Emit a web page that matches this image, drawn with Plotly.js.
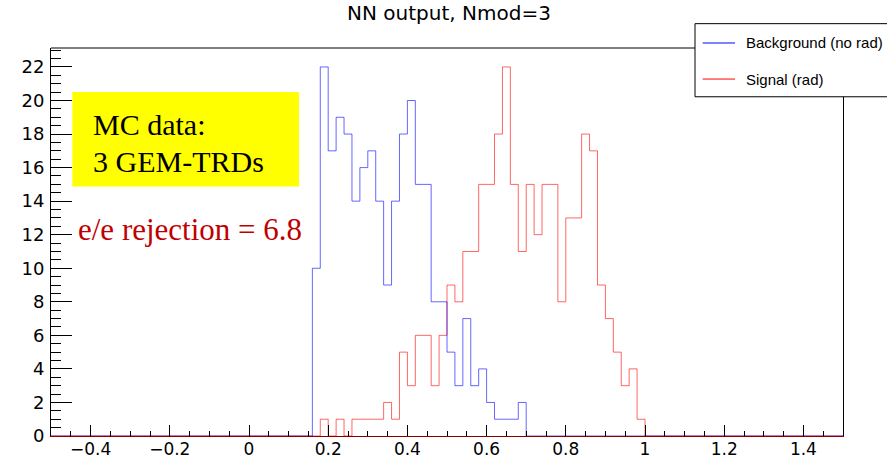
<!DOCTYPE html>
<html>
<head>
<meta charset="utf-8">
<script src="https://cdn.plot.ly/plotly-3.0.1.min.js"></script>
<style>html,body{margin:0;padding:0;background:#fff;}#chart{width:887px;height:460px;}</style>
</head>
<body>
<div id="chart"></div>
<script>
// Histogram bins (lower edges) and counts
const bkgBins   = [0.16,0.18,0.20,0.22,0.24,0.26,0.28,0.30,0.32,0.34,0.36,0.38,0.40,0.42,0.44,0.46,0.48,0.50,0.52,0.54,0.56,0.58,0.60,0.62,0.64,0.66,0.68];
const bkgCounts = [10,22,17,19,18,14,16,17,14,9,14,18,20,15,15,8,8,5,3,7,3,4,2,1,1,1,2];

const sigBins   = [0.18,0.20,0.22,0.24,0.26,0.28,0.30,0.32,0.34,0.36,0.38,0.40,0.42,0.44,0.46,0.48,0.50,0.52,0.54,0.56,0.58,0.60,0.62,0.64,0.66,0.68,0.70,0.72,0.74,0.76,0.78,0.80,0.82,0.84,0.86,0.88,0.90,0.92,0.94,0.96,0.98];
const sigCounts = [1,0,1,0,1,1,1,1,2,1,5,3,6,6,3,6,9,8,11,11,15,15,18,22,15,11,15,12,15,15,8,13,13,18,17,9,7,5,3,4,1];

const binWidth = 0.02;
const xRange = [-0.5, 1.5];
const yRange = [0, 23.13];
const seriesNames = ["Background (no rad)", "Signal (rad)"];

function stepTrace(bins, counts, color) {
  const x = [xRange[0]].concat(bins, [bins[bins.length-1] + binWidth, xRange[1]]);
  const y = [0].concat(counts, [0, 0]);
  return {
    type: 'scatter', mode: 'lines', x: x, y: y,
    line: {shape: 'hv', color: color, width: 1},
    showlegend: false, hoverinfo: 'skip', cliponaxis: false
  };
}

const traces = [
  stepTrace(sigBins, sigCounts, 'rgba(255,0,0,0.6)'),
  stepTrace(bkgBins, bkgCounts, 'rgba(0,0,255,0.6)')
];

const L = 51, R = 843, T = 48.3, B = 435.7;
const px = v => (v - L) / (R - L);
const py = v => (B - v) / (B - T);

const layout = {
  width: 887, height: 460,
  margin: {l: L, r: 887 - R, t: T, b: 460 - B, pad: 0},
  paper_bgcolor: '#fff', plot_bgcolor: '#fff',
  showlegend: false,
  title: {
    text: 'NN output, Nmod=3',
    font: {family: 'DejaVu Sans', size: 20, color: '#000'},
    x: 449/887, xanchor: 'center', y: 1 - 13/460, yanchor: 'middle', yref: 'container'
  },
  xaxis: {
    range: xRange, showgrid: false, zeroline: false,
    showline: true, linecolor: '#8a0000', linewidth: 1, mirror: false,
    ticks: 'inside', ticklen: 11, tickwidth: 1, tickcolor: '#000',
    dtick: 0.2, tick0: 0,
    minor: {dtick: 0.05, ticks: 'inside', ticklen: 5, tickwidth: 1, tickcolor: '#000'},
    tickfont: {family: 'DejaVu Sans', size: 17, color: '#000'},
    ticklabelstandoff: -2
  },
  yaxis: {
    range: yRange, showgrid: false, zeroline: false,
    showline: true, linecolor: '#000', linewidth: 1, mirror: true,
    ticks: 'inside', ticklen: 21, tickwidth: 1, tickcolor: '#000',
    dtick: 2, tick0: 0,
    minor: {dtick: 0.5, ticks: 'inside', ticklen: 10, tickwidth: 1, tickcolor: '#000'},
    tickfont: {family: 'DejaVu Sans', size: 18, color: '#000'},
    ticklabelstandoff: 2
  },
  shapes: [
    // top frame line
    {type: 'line', xref: 'paper', yref: 'paper', x0: 0, x1: 1, y0: 1, y1: 1,
     line: {color: '#000', width: 1}, layer: 'above'},
    // yellow text box
    {type: 'rect', xref: 'paper', yref: 'paper', x0: px(72.3), x1: px(299), y0: py(186.7), y1: py(92.3),
     fillcolor: '#ffff00', line: {width: 0}, layer: 'above'},
    // legend box
    {type: 'rect', xref: 'paper', yref: 'paper', x0: px(695), x1: px(900), y0: py(97), y1: py(24),
     fillcolor: '#fff', line: {color: '#000', width: 1}, layer: 'above'},
    {type: 'line', xref: 'paper', yref: 'paper', x0: px(702.7), x1: px(735), y0: py(43.3), y1: py(43.3),
     line: {color: '#0000ff', width: 1}, layer: 'above'},
    {type: 'line', xref: 'paper', yref: 'paper', x0: px(702.7), x1: px(735), y0: py(79.3), y1: py(79.3),
     line: {color: '#ff0000', width: 1}, layer: 'above'}
  ],
  annotations: [
    {xref: 'paper', yref: 'paper', x: px(91), y: py(125), xanchor: 'left', yanchor: 'middle', showarrow: false,
     text: 'MC data:', font: {family: 'Liberation Serif', size: 30, color: '#000'}},
    {xref: 'paper', yref: 'paper', x: px(91), y: py(162), xanchor: 'left', yanchor: 'middle', showarrow: false,
     text: '3 GEM-TRDs', font: {family: 'Liberation Serif', size: 30, color: '#000'}},
    {xref: 'paper', yref: 'paper', x: px(76), y: py(230), xanchor: 'left', yanchor: 'middle', showarrow: false,
     text: 'e/e rejection = 6.8', font: {family: 'Liberation Serif', size: 31, color: '#c00000'}},
    {xref: 'paper', yref: 'paper', x: px(744), y: py(43.3), xanchor: 'left', yanchor: 'middle', showarrow: false,
     text: seriesNames[0], font: {family: 'Liberation Sans', size: 15, color: '#000'}},
    {xref: 'paper', yref: 'paper', x: px(744), y: py(79.3), xanchor: 'left', yanchor: 'middle', showarrow: false,
     text: seriesNames[1], font: {family: 'Liberation Sans', size: 15, color: '#000'}}
  ]
};

Plotly.newPlot('chart', traces, layout, {staticPlot: true, displayModeBar: false});
</script>
</body>
</html>
